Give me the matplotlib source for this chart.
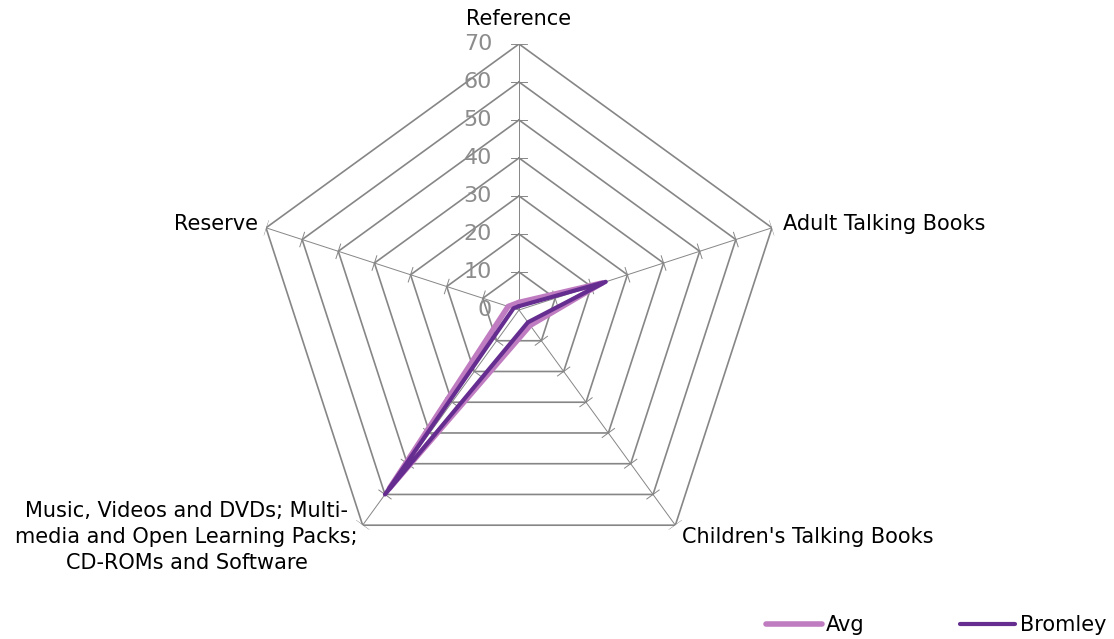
import numpy as np
import matplotlib
matplotlib.use("Agg")
import matplotlib.pyplot as plt

categories = ["Reference", "Adult Talking Books", "Children's Talking Books",
              "Music, Videos and DVDs; Multi-\nmedia and Open Learning Packs;\nCD-ROMs and Software",
              "Reserve"]
avg = [2, 23, 5, 58, 3]
bromley = [1, 24, 4, 60, 1.5]
ring_values = [0, 10, 20, 30, 40, 50, 60, 70]

avg_color = "#C07CC0"
bromley_color = "#652D90"
grid_color = "#868686"

fig = plt.figure(figsize=(11.14, 6.39), dpi=100)
ax = fig.add_axes([253 / 1114, 63 / 639, 532 / 1114, 532 / 639], projection="polar")
ax.set_theta_zero_location("N")
ax.set_theta_direction(-1)
ax.set_ylim(0, 70)
ax.grid(False)
ax.set_xticks([])
ax.set_yticks([])
ax.spines["polar"].set_visible(False)

n = len(categories)
theta = np.linspace(0, 2 * np.pi, n, endpoint=False)
theta_closed = np.append(theta, theta[0])

# rings and spokes
for r in ring_values[1:]:
    ax.plot(theta_closed, [r] * (n + 1), color=grid_color, lw=1.2, zorder=1)
for t in theta:
    ax.plot([t, t], [0, ring_values[-1]], color=grid_color, lw=0.7, zorder=1)
    # small tick marks across each spoke
    for r in ring_values[1:]:
        h = 2.0
        dt = np.arctan(h / r)
        rr = np.hypot(r, h)
        ax.plot([t - dt, t + dt], [rr, rr], color=grid_color, lw=0.7, zorder=1)

# radial labels
for r in ring_values:
    ax.annotate(str(r), xy=(0, r), xytext=(-27, 0), textcoords="offset pixels",
                ha="right", va="center", fontsize=16, color="#8C8C8C")

# series
ax.plot(theta_closed, avg + avg[:1], color=avg_color, lw=4, zorder=3,
        solid_joinstyle="round", solid_capstyle="round", label="Avg")
ax.plot(theta_closed, bromley + bromley[:1], color=bromley_color, lw=3, zorder=4,
        solid_joinstyle="round", solid_capstyle="round", label="Bromley")

# category labels
label_opts = [
    ((0, 25), "center", "center"),
    ((11, 4), "left", "center"),
    ((7, -12), "left", "center"),
    ((-176, -12), "center", "center"),
    ((-8, 4), "right", "center"),
]
for t, name, (off, ha, va) in zip(theta, categories, label_opts):
    ax.annotate(name, xy=(t, 70), xytext=off, textcoords="offset pixels",
                ha=ha, va=va, fontsize=15, color="black",
                multialignment="center", linespacing=1.38, annotation_clip=False)

fig.legend(loc="center right", bbox_to_anchor=(1106 / 1114, 14 / 639), ncol=2,
           frameon=False, fontsize=15, handlelength=2.65, handletextpad=0.2,
           columnspacing=4.6, borderaxespad=0, borderpad=0)

fig.savefig("out.png", dpi=100)
